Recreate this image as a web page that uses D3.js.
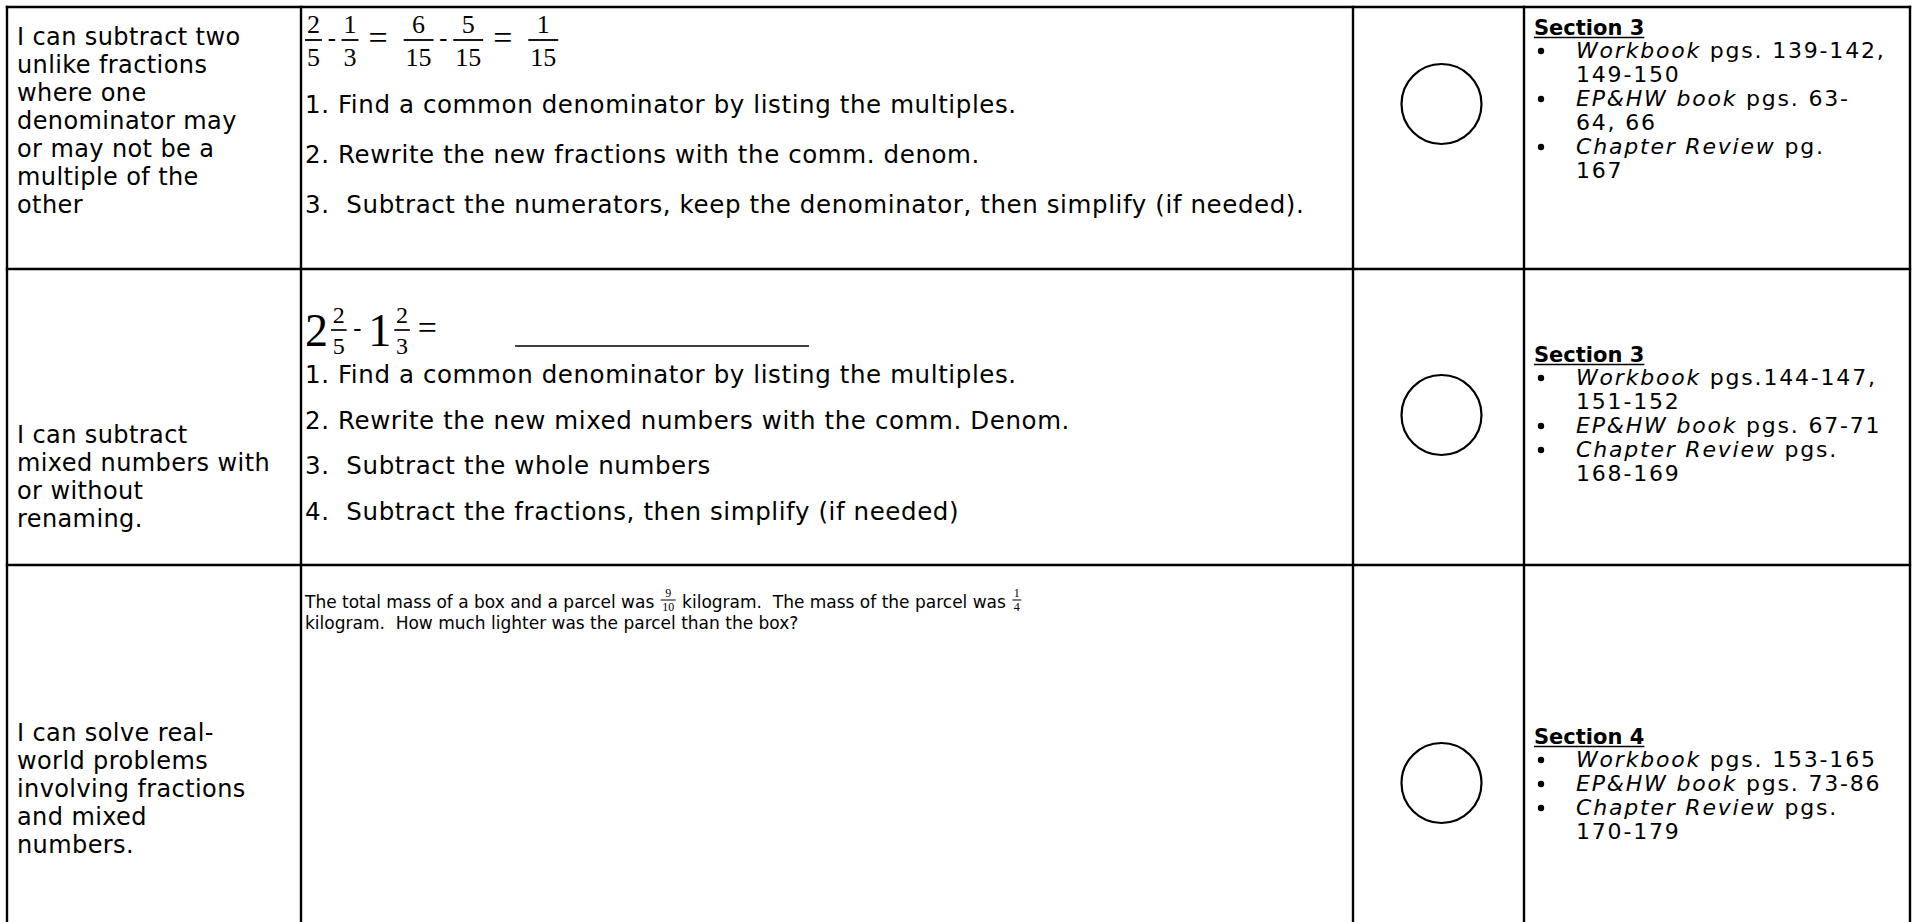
<!DOCTYPE html>
<html>
<head>
<meta charset="utf-8">
<script src="https://cdn.jsdelivr.net/npm/d3@7"></script>
<style>
  body { margin: 0; background: #fff; }
  svg { display: block; }
  text { white-space: pre; }
</style>
</head>
<body>
<div class="chart"></div>
<script>
var width = 1916, height = 922;

// ---- content of the table ----
var goalLines = [
  ["I can subtract two", "unlike fractions", "where one", "denominator may", "or may not be a", "multiple of the", "other"],
  ["I can subtract", "mixed numbers with", "or without", "renaming."],
  ["I can solve real-", "world problems", "involving fractions", "and mixed", "numbers."]
];
var eq1 = [[2, 5], "-", [1, 3], "=", [6, 15], "-", [5, 15], "=", [1, 15]];
var eq2 = [2, [2, 5], "-", 1, [2, 3], "="];
var steps1 = [
  "1. Find a common denominator by listing the multiples.",
  "2. Rewrite the new fractions with the comm. denom.",
  "3.  Subtract the numerators, keep the denominator, then simplify (if needed)."
];
var steps2 = [
  "1. Find a common denominator by listing the multiples.",
  "2. Rewrite the new mixed numbers with the comm. Denom.",
  "3.  Subtract the whole numbers",
  "4.  Subtract the fractions, then simplify (if needed)"
];
var question = [
  ["The total mass of a box and a parcel was ", [9, 10], " kilogram.  The mass of the parcel was ", [1, 4]],
  ["kilogram.  How much lighter was the parcel than the box?"]
];
var sections = ["Section 3", "Section 3", "Section 4"];
var refs = [
  [["Workbook", " pgs. 139-142,", "149-150"], ["EP&HW book", " pgs. 63-", "64, 66"], ["Chapter Review", " pg.", "167"]],
  [["Workbook", " pgs.144-147,", "151-152"], ["EP&HW book", " pgs. 67-71"], ["Chapter Review", " pgs.", "168-169"]],
  [["Workbook", " pgs. 153-165"], ["EP&HW book", " pgs. 73-86"], ["Chapter Review", " pgs.", "170-179"]]
];

// ---- layout ----
var TEXT = "'DejaVu Sans', sans-serif";
var MATH = "'Liberation Serif', serif";
var goalTop = [37, 435, 733];      // centre of first line in each row
var bookTop = [27, 354, 736];
var circleY = [104, 415, 783];

var svg = d3.select(".chart")
  .append("svg")
  .attr("width", width)
  .attr("height", height);

svg.append("rect").attr("width", width).attr("height", height).attr("fill", "#fff");

// table grid
var colKeys = ["goal", "work", "check", "book", "end"];
var colX = d3.scaleOrdinal().domain(colKeys).range([7, 301, 1353, 1524, 1910]);
var rowKeys = ["top", "r1", "r2", "r3"];
var rowY = d3.scaleOrdinal().domain(rowKeys).range([7, 269, 565, 1000]);
function colMid(k) { return (colX(k) + colX(colKeys[colKeys.indexOf(k) + 1])) / 2; }

var grid = svg.append("g").attr("stroke", "#000").attr("stroke-width", 2.4);
grid.selectAll(".hline").data(rowKeys).enter().append("line")
  .attr("class", "hline")
  .attr("x1", colX("goal") - 1.2).attr("x2", colX("end") + 1.2)
  .attr("y1", function(d) { return rowY(d); })
  .attr("y2", function(d) { return rowY(d); });
grid.selectAll(".vline").data(colKeys).enter().append("line")
  .attr("class", "vline")
  .attr("x1", function(d) { return colX(d); })
  .attr("x2", function(d) { return colX(d); })
  .attr("y1", rowY("top") - 1.2).attr("y2", rowY("r3"));

function lineScale(top, lh) {
  return d3.scaleLinear().domain([0, 1]).range([top, top + lh]);
}

// column 1 : learning goals
var goalSize = 24;
goalLines.forEach(function(lines, i) {
  var ly = lineScale(goalTop[i], 28);
  svg.append("g").selectAll("text").data(lines).enter().append("text")
    .attr("x", colX("goal") + 10)
    .attr("y", function(d, j) { return ly(j) + goalSize * 0.33; })
    .attr("font-family", TEXT).attr("font-size", goalSize)
    .attr("letter-spacing", 0.4)
    .text(function(d) { return d; });
});

// stacked fraction, returns its width
function fraction(g, x, barY, f, size, up, down, pad) {
  var num = g.append("text").attr("font-family", MATH).attr("font-size", size)
    .attr("text-anchor", "middle").text(f[0]);
  var den = g.append("text").attr("font-family", MATH).attr("font-size", size)
    .attr("text-anchor", "middle").text(f[1]);
  var w = Math.max(num.node().getComputedTextLength(), den.node().getComputedTextLength()) + size * pad;
  num.attr("x", x + w / 2).attr("y", barY - size * up);
  den.attr("x", x + w / 2).attr("y", barY + size * down);
  g.append("line").attr("x1", x).attr("x2", x + w)
    .attr("y1", barY).attr("y2", barY)
    .attr("stroke", "#000").attr("stroke-width", Math.max(1, size * 0.07));
  return w;
}

function opText(g, x, barY, s, size, font, shift) {
  var t = g.append("text").attr("x", x).attr("y", barY + size * shift)
    .attr("font-family", font).attr("font-size", size).text(s);
  return t.node().getComputedTextLength();
}

// column 2, row 1 : worked equation and steps
var workX = colX("work") + 4;
var stepSize = 24.5;
var eqG1 = svg.append("g");
var bar1 = 40, cx = workX;
eq1.forEach(function(tok) {
  if (Array.isArray(tok)) {
    cx += fraction(eqG1, cx, bar1, tok, 26, 0.27, 1.0, 0.15);
  } else if (tok == "-") {
    cx += 5.5;
    cx += opText(eqG1, cx, bar1, "-", 24, TEXT, 0.3) + 5.5;
  } else {
    cx += 10;
    cx += opText(eqG1, cx, bar1, "=", 34, MATH, 0.25) + 16;
  }
});

function stepBlock(lines, top, lh) {
  var sy = lineScale(top, lh);
  svg.append("g").selectAll("text").data(lines).enter().append("text")
    .attr("x", workX)
    .attr("y", function(d, j) { return sy(j) + stepSize * 0.33; })
    .attr("font-family", TEXT).attr("font-size", stepSize).attr("letter-spacing", 0.6)
    .text(function(d) { return d; });
}
stepBlock(steps1, 105, 50);

// column 2, row 2 : mixed numbers
var eqG2 = svg.append("g");
var bar2 = 330;
cx = workX;
eq2.forEach(function(tok) {
  if (Array.isArray(tok)) {
    cx += 3;
    cx += fraction(eqG2, cx, bar2, tok, 24, 0.29, 1.0, 0.15);
  } else if (tok == "-") {
    cx += 6.5;
    cx += opText(eqG2, cx, bar2, "-", 24, TEXT, 0.3) + 6.5;
  } else if (tok == "=") {
    cx += 8;
    cx += opText(eqG2, cx, bar2, "=", 34, MATH, 0.25);
  } else {
    cx += opText(eqG2, cx, bar2, String(tok), 46, MATH, 0.34);
  }
});
// blank answer line
eqG2.append("line")
  .attr("x1", cx + 78).attr("x2", cx + 372)
  .attr("y1", bar2 + 16).attr("y2", bar2 + 16)
  .attr("stroke", "#000").attr("stroke-width", 1.5);

stepBlock(steps2, 375, 45.7);

// column 2, row 3 : word problem
var qSize = 17;
var qy = lineScale(602, 21);
var qG = svg.append("g");
question.forEach(function(parts, j) {
  var x = workX, yc = qy(j);
  parts.forEach(function(p) {
    if (Array.isArray(p)) {
      x += fraction(qG, x + 1, yc - 2, p, 12, 0.22, 0.95, 0.25) + 2;
    } else {
      var t = qG.append("text").attr("x", x).attr("y", yc + qSize * 0.33)
        .attr("font-family", TEXT).attr("font-size", qSize).text(p);
      x += t.node().getComputedTextLength();
    }
  });
});

// column 3 : self check circles
svg.append("g").selectAll("circle").data(sections).enter().append("circle")
  .attr("cx", colMid("check") + 3)
  .attr("cy", function(d, i) { return circleY[i]; })
  .attr("r", 40)
  .attr("fill", "none").attr("stroke", "#000").attr("stroke-width", 2.2);

// column 4 : where to practise
var bookSize = 22;
var bookX = colX("book") + 10;
sections.forEach(function(sec, i) {
  var lines = [];
  refs[i].forEach(function(r) {
    lines.push({ it: r[0], rest: r[1], bullet: true });
    if (r.length > 2) lines.push({ it: "", rest: r[2], bullet: false });
  });
  var ly = lineScale(bookTop[i], 24);
  var g = svg.append("g");
  var head = g.append("text")
    .attr("x", bookX).attr("y", ly(0) + 7.5)
    .attr("font-family", TEXT).attr("font-size", 21).attr("font-weight", "bold")
    .text(sec);
  var hw = head.node().getComputedTextLength();
  g.append("line")
    .attr("x1", bookX).attr("x2", bookX + hw)
    .attr("y1", ly(0) + 10.5).attr("y2", ly(0) + 10.5)
    .attr("stroke", "#000").attr("stroke-width", 1.7);

  lines.forEach(function(l, j) {
    var yy = ly(j + 1);
    if (l.bullet) {
      g.append("circle").attr("cx", bookX + 7).attr("cy", yy).attr("r", 3.2).attr("fill", "#000");
    }
    var t = g.append("text")
      .attr("x", bookX + 42).attr("y", yy + bookSize * 0.34)
      .attr("font-family", TEXT).attr("font-size", bookSize).attr("letter-spacing", 1.8);
    if (l.it) t.append("tspan").attr("font-style", "italic").text(l.it);
    t.append("tspan").text(l.rest);
  });
});
</script>
</body>
</html>
